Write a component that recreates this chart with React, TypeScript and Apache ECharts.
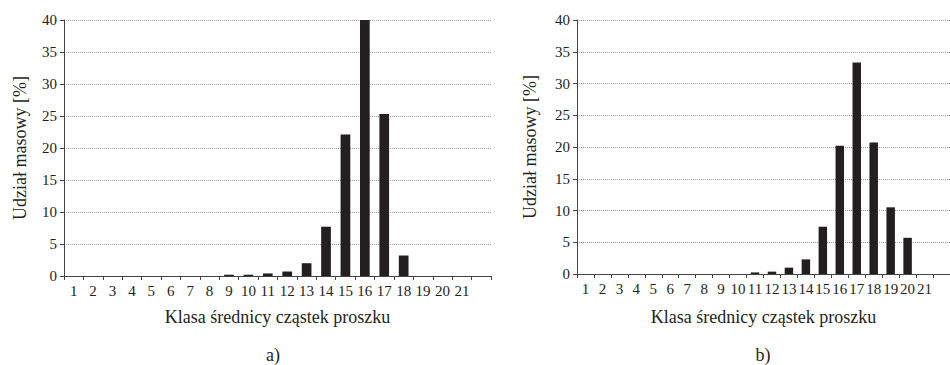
import React, { useEffect, useRef } from "react";
import * as echarts from "echarts";

const categories = ["1","2","3","4","5","6","7","8","9","10","11","12","13","14","15","16","17","18","19","20","21",""];
const valuesA = [0,0,0,0,0,0,0,0,0.2,0.2,0.4,0.7,2.0,7.7,22.1,40.1,25.3,3.2,0,0,0,0];
const valuesB = [0,0,0,0,0,0,0,0,0,0,0.25,0.37,1.0,2.3,7.45,20.2,33.3,20.7,10.5,5.7,0,0];
const yTicks = [0, 5, 10, 15, 20, 25, 30, 35, 40];
const yName = "Udział masowy [%]";
const xName = "Klasa średnicy cząstek proszku";
const panelLabels = ["a)", "b)"];

const FONT = "Liberation Serif";
const TXT = "#231f20";

export default function App() {
  const ref = useRef<HTMLDivElement>(null);
  useEffect(() => {
    if (!ref.current) return;
    const chart = echarts.init(ref.current, null, { renderer: "svg" });
    const grids = [
      { left: 64, top: 20, width: 427, height: 256 },
      { left: 577, top: 20, width: 379, height: 254 },
    ];
    const xAxis = grids.map((_, i) => ({
      type: "category",
      gridIndex: i,
      data: categories,
      boundaryGap: true,
      name: xName,
      nameLocation: "middle",
      nameGap: i === 0 ? 32 : 34,
      nameTextStyle: { fontFamily: FONT, fontSize: 18, color: TXT },
      axisLine: { lineStyle: { color: "#444", width: 1 } },
      axisTick: { show: true, length: 4, inside: false, lineStyle: { color: "#444" } },
      axisLabel: { fontFamily: FONT, fontSize: 15, color: TXT, margin: 7, interval: 0 },
      splitLine: { show: false },
    }));
    const yAxis = grids.map((_, i) => ({
      type: "value",
      gridIndex: i,
      min: yTicks[0],
      max: yTicks[yTicks.length - 1],
      interval: yTicks[1] - yTicks[0],
      axisLine: { show: true, lineStyle: { color: "#444", width: 1 } },
      axisTick: { show: true, length: 4, inside: false, lineStyle: { color: "#444" } },
      axisLabel: { fontFamily: FONT, fontSize: 15, color: TXT, margin: 7 },
      splitLine: { show: true, lineStyle: { type: "dotted", color: "#9a9a9a", width: 1 } },
    }));
    const series = [valuesA, valuesB].map((vals, i) => ({
      type: "bar",
      xAxisIndex: i,
      yAxisIndex: i,
      data: vals,
      barWidth: "50%",
      itemStyle: { color: "#231f20", borderWidth: 0 },
    }));
    const yNameText = (x: number, y: number) => ({
      type: "text",
      x,
      y,
      rotation: Math.PI / 2,
      style: { text: yName, fontFamily: FONT, fontSize: 18, fill: TXT, align: "center", verticalAlign: "middle" },
    });
    chart.setOption({
      animation: false,
      backgroundColor: "#ffffff",
      grid: grids,
      xAxis,
      yAxis,
      series,
      graphic: [
        yNameText(20, 148),
        yNameText(530, 147),
        { type: "text", x: 273, y: 355, style: { text: panelLabels[0], fontFamily: FONT, fontSize: 18, fill: TXT, align: "center", verticalAlign: "middle" } },
        { type: "text", x: 763, y: 355, style: { text: panelLabels[1], fontFamily: FONT, fontSize: 18, fill: TXT, align: "center", verticalAlign: "middle" } },
      ],
    });
    return () => chart.dispose();
  }, []);
  return <div ref={ref} style={{ width: 950, height: 365, position: "absolute", left: 0, top: 0 }} />;
}
